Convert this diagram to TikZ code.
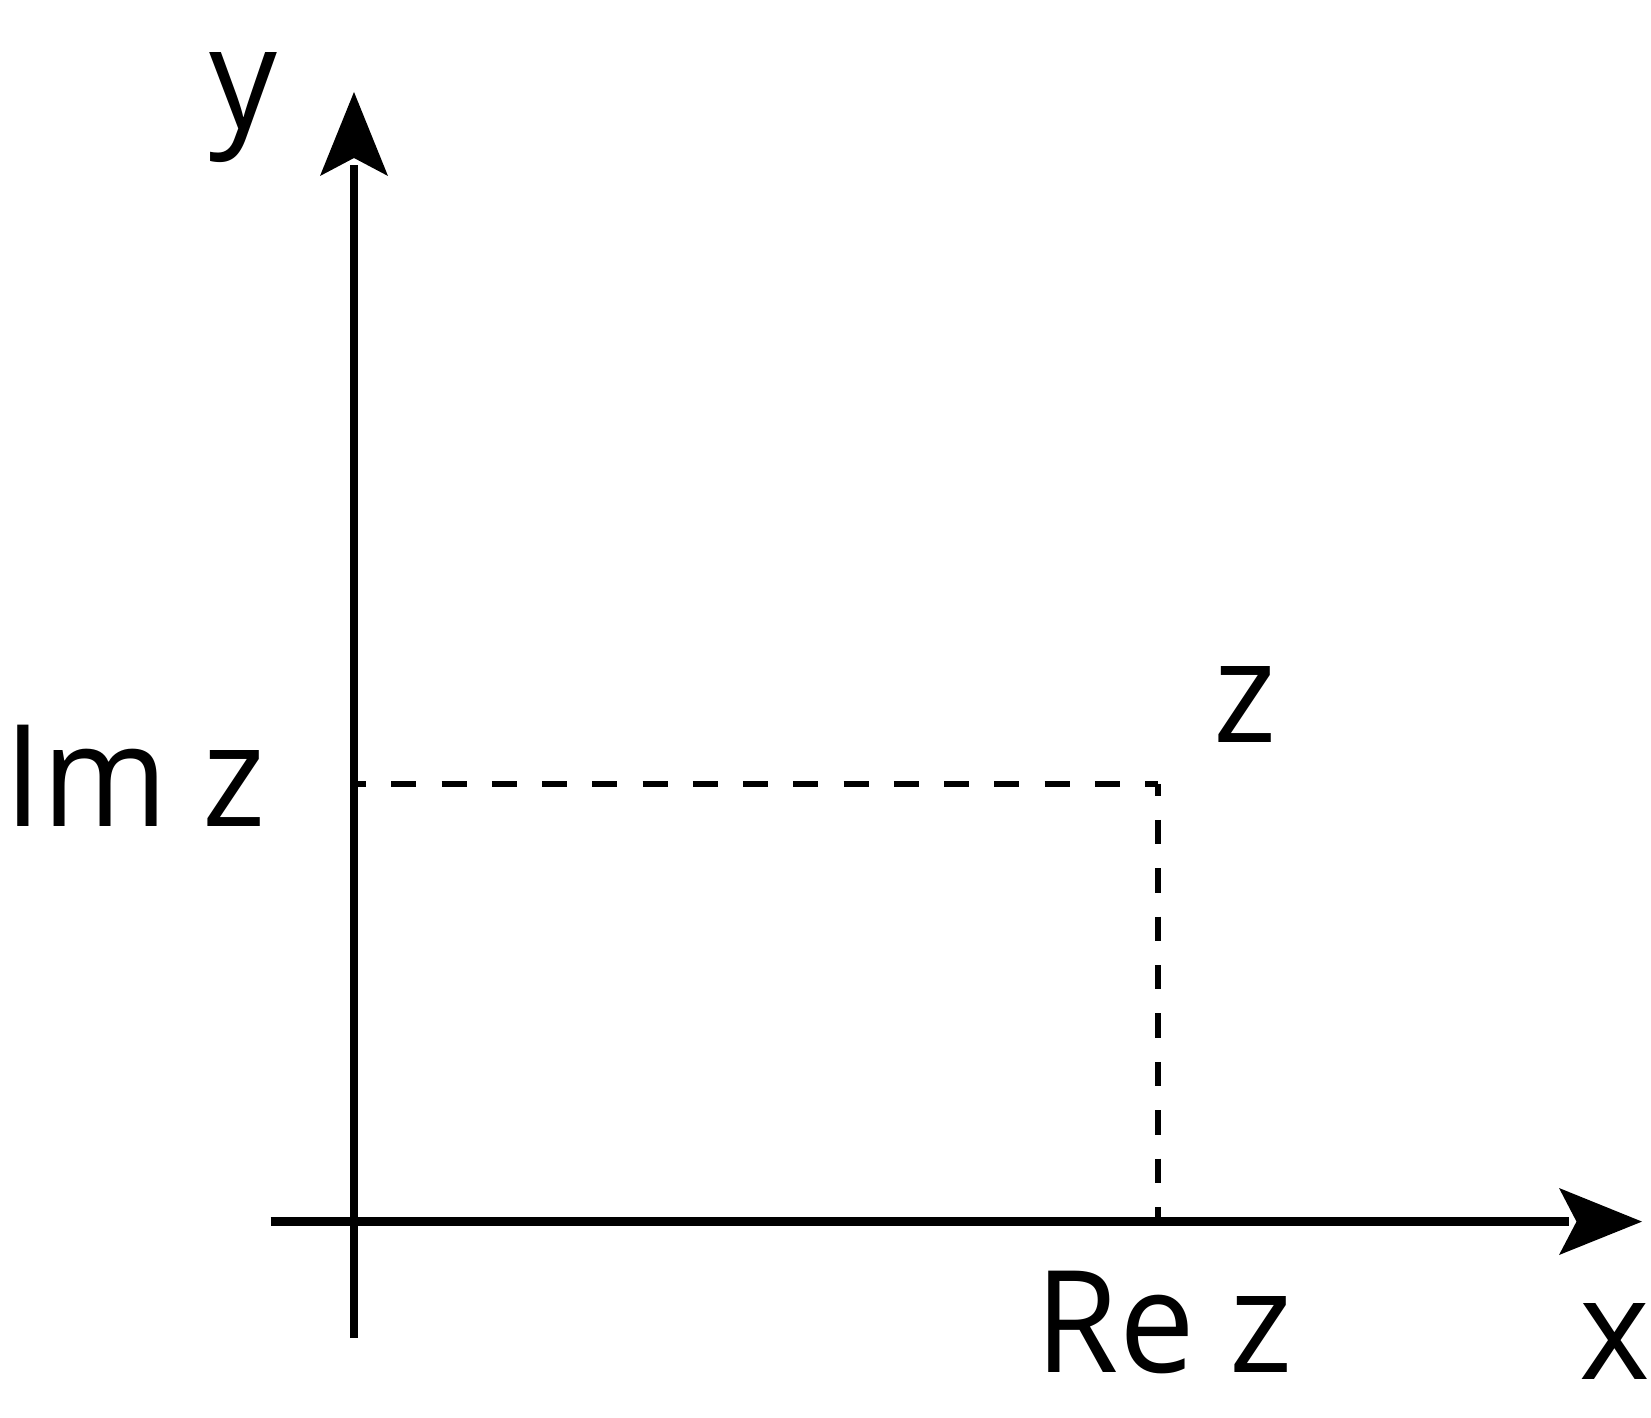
\documentclass[tikz,border=0pt]{standalone}
\usepackage{fontspec}
\setmainfont[FakeStretch=0.95]{Open Sans}
\begin{document}
\begin{tikzpicture}[x=0.5pt,y=-0.5pt,
  axis/.style={line width=4.15pt},
  tiphead/.style={fill=black},
  hguide/.style={line width=3pt,dash pattern=on 12.5pt off 12.625pt,dash phase=6.5pt},
  vguide/.style={line width=3pt,dash pattern=on 12.2pt off 12pt,dash phase=6.2pt},
  lbl/.style={anchor=base,inner sep=0pt,font=\fontsize{71}{85}\selectfont}]
\useasboundingbox (0,0) rectangle (1651,1418);
% y axis
\coordinate (ybot) at (354,1338);
\coordinate (yend) at (354,165);
\coordinate (ytip) at (354,92);
\draw[axis] (ybot) -- (yend);
\fill[tiphead] (ytip) -- (388,176) -- (354,158) -- (320,176) -- cycle;
% x axis
\coordinate (xstart) at (270.7,1221.6);
\coordinate (xend) at (1569,1221.6);
\coordinate (xtip) at (1642,1221.6);
\draw[axis] (xstart) -- (xend);
\fill[tiphead] (xtip) -- (1559,1255) -- (1576.5,1221.6) -- (1559,1188) -- cycle;
% point z and guides
\coordinate (imz) at (354,783.8);
\coordinate (pz) at (1158.3,783.8);
\coordinate (rez) at (1158.3,1221.6);
\draw[hguide] (imz) -- (pz);
\draw[vguide] (pz) -- (rez);
% labels
\node[lbl] (ylab) at (243,128.7) {y};
\node[lbl] (imlab) at (135,826.7) {Im z};
\node[lbl] (zlab) at (1245,742) {z};
\node[lbl] (relab) at (1164.5,1372) {Re z};
\node[lbl] (xlab) at (1615,1379.5) {x};
\end{tikzpicture}
\end{document}
